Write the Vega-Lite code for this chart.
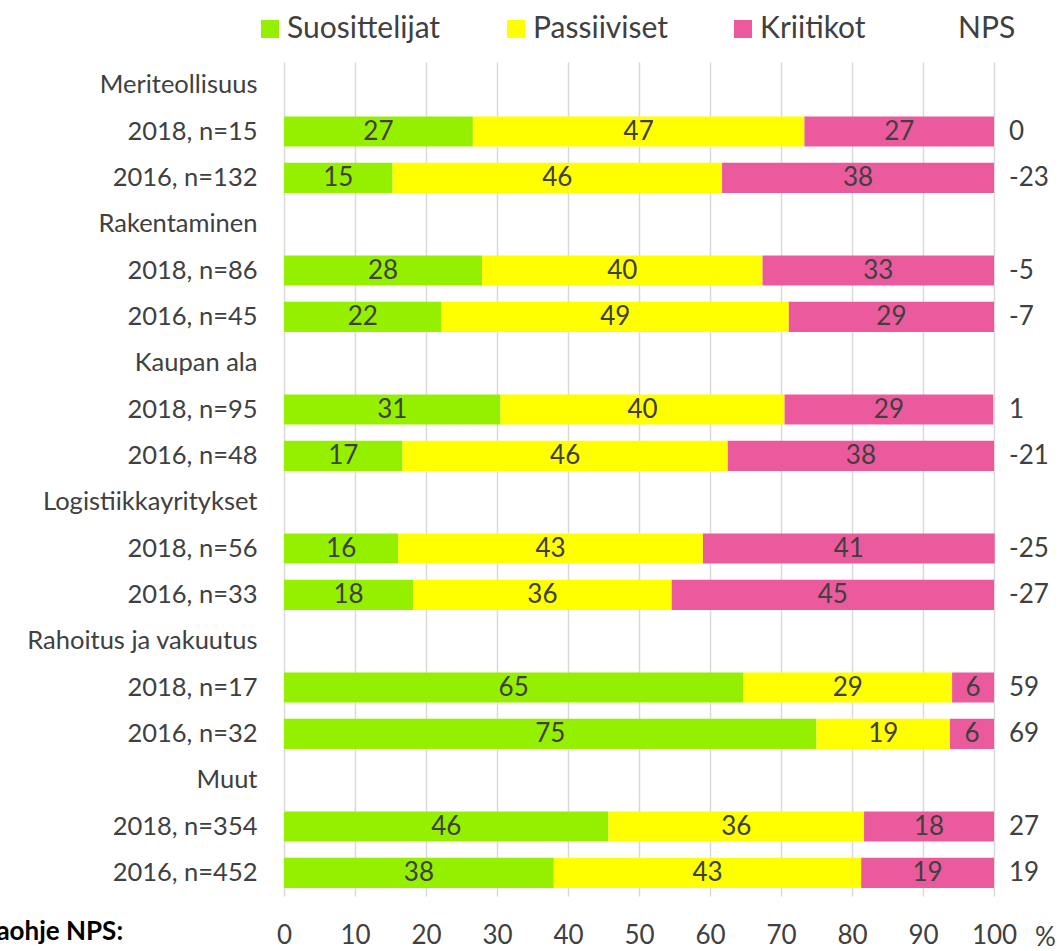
{
  "$schema": "https://vega.github.io/schema/vega-lite/v6.json",
  "autosize": "none",
  "width": 710,
  "height": 834,
  "padding": {"left": 284, "top": 62, "right": 69, "bottom": 55},
  "background": "white",
  "config": {
    "view": {"stroke": null},
    "font": "Lato",
    "text": {"font": "Lato"}
  },
  "title": {
    "text": "Laskentaohje NPS:",
    "orient": "bottom",
    "anchor": "start",
    "frame": "group",
    "font": "Lato",
    "fontWeight": "bold",
    "fontSize": 26,
    "color": "#000000",
    "dx": -377,
    "dy": -35
  },
  "datasets": {
    "bars": [
      {"label": "2018, n=15", "seg": "Suosittelijat", "o": 1, "value": 26.6},
      {"label": "2018, n=15", "seg": "Passiiviset", "o": 2, "value": 46.7},
      {"label": "2018, n=15", "seg": "Kriitikot", "o": 3, "value": 26.7},
      {"label": "2016, n=132", "seg": "Suosittelijat", "o": 1, "value": 15.3},
      {"label": "2016, n=132", "seg": "Passiiviset", "o": 2, "value": 46.4},
      {"label": "2016, n=132", "seg": "Kriitikot", "o": 3, "value": 38.3},
      {"label": "2018, n=86", "seg": "Suosittelijat", "o": 1, "value": 27.9},
      {"label": "2018, n=86", "seg": "Passiiviset", "o": 2, "value": 39.5},
      {"label": "2018, n=86", "seg": "Kriitikot", "o": 3, "value": 32.6},
      {"label": "2016, n=45", "seg": "Suosittelijat", "o": 1, "value": 22.2},
      {"label": "2016, n=45", "seg": "Passiiviset", "o": 2, "value": 48.9},
      {"label": "2016, n=45", "seg": "Kriitikot", "o": 3, "value": 28.9},
      {"label": "2018, n=95", "seg": "Suosittelijat", "o": 1, "value": 30.5},
      {"label": "2018, n=95", "seg": "Passiiviset", "o": 2, "value": 40.0},
      {"label": "2018, n=95", "seg": "Kriitikot", "o": 3, "value": 29.4},
      {"label": "2016, n=48", "seg": "Suosittelijat", "o": 1, "value": 16.7},
      {"label": "2016, n=48", "seg": "Passiiviset", "o": 2, "value": 45.8},
      {"label": "2016, n=48", "seg": "Kriitikot", "o": 3, "value": 37.5},
      {"label": "2018, n=56", "seg": "Suosittelijat", "o": 1, "value": 16.1},
      {"label": "2018, n=56", "seg": "Passiiviset", "o": 2, "value": 42.9},
      {"label": "2018, n=56", "seg": "Kriitikot", "o": 3, "value": 41.1},
      {"label": "2016, n=33", "seg": "Suosittelijat", "o": 1, "value": 18.2},
      {"label": "2016, n=33", "seg": "Passiiviset", "o": 2, "value": 36.4},
      {"label": "2016, n=33", "seg": "Kriitikot", "o": 3, "value": 45.4},
      {"label": "2018, n=17", "seg": "Suosittelijat", "o": 1, "value": 64.7},
      {"label": "2018, n=17", "seg": "Passiiviset", "o": 2, "value": 29.4},
      {"label": "2018, n=17", "seg": "Kriitikot", "o": 3, "value": 5.9},
      {"label": "2016, n=32", "seg": "Suosittelijat", "o": 1, "value": 75.0},
      {"label": "2016, n=32", "seg": "Passiiviset", "o": 2, "value": 18.8},
      {"label": "2016, n=32", "seg": "Kriitikot", "o": 3, "value": 6.2},
      {"label": "2018, n=354", "seg": "Suosittelijat", "o": 1, "value": 45.7},
      {"label": "2018, n=354", "seg": "Passiiviset", "o": 2, "value": 36.0},
      {"label": "2018, n=354", "seg": "Kriitikot", "o": 3, "value": 18.3},
      {"label": "2016, n=452", "seg": "Suosittelijat", "o": 1, "value": 38.0},
      {"label": "2016, n=452", "seg": "Passiiviset", "o": 2, "value": 43.3},
      {"label": "2016, n=452", "seg": "Kriitikot", "o": 3, "value": 18.7}
    ],
    "nps": [
      {"label": "2018, n=15", "nps": "0"},
      {"label": "2016, n=132", "nps": "-23"},
      {"label": "2018, n=86", "nps": "-5"},
      {"label": "2016, n=45", "nps": "-7"},
      {"label": "2018, n=95", "nps": "1"},
      {"label": "2016, n=48", "nps": "-21"},
      {"label": "2018, n=56", "nps": "-25"},
      {"label": "2016, n=33", "nps": "-27"},
      {"label": "2018, n=17", "nps": "59"},
      {"label": "2016, n=32", "nps": "69"},
      {"label": "2018, n=354", "nps": "27"},
      {"label": "2016, n=452", "nps": "19"}
    ]
  },
  "layer": [
    {
      "data": {"name": "bars"},
      "mark": {"type": "bar"},
      "encoding": {
        "y": {
          "field": "label",
          "type": "nominal",
          "scale": {
            "domain": ["Meriteollisuus", "2018, n=15", "2016, n=132", "Rakentaminen", "2018, n=86", "2016, n=45", "Kaupan ala", "2018, n=95", "2016, n=48", "Logistiikkayritykset", "2018, n=56", "2016, n=33", "Rahoitus ja vakuutus", "2018, n=17", "2016, n=32", "Muut", "2018, n=354", "2016, n=452"],
            "paddingInner": 0.35,
            "paddingOuter": 0.175
          },
          "axis": {
            "title": null,
            "domain": false,
            "ticks": false,
            "grid": false,
            "labelPadding": 27,
            "labelLimit": 400,
            "labelFontSize": 25.5,
            "labelFont": "Lato",
            "labelColor": "#404040"
          }
        },
        "x": {
          "field": "value",
          "type": "quantitative",
          "stack": "zero",
          "scale": {"domain": [0, 100], "nice": false},
          "axis": {
            "values": [0, 10, 20, 30, 40, 50, 60, 70, 80, 90, 100],
            "grid": true,
            "gridColor": "#d9d9d9",
            "gridWidth": 1.5,
            "domain": false,
            "ticks": false,
            "labelFlush": false,
            "labelOverlap": false,
            "labelPadding": 26,
            "labelFontSize": 26,
            "labelFont": "Lato",
            "labelColor": "#404040",
            "title": "%",
            "titleFont": "Lato",
            "titleFontSize": 26,
            "titleFontWeight": "normal",
            "titleColor": "#404040",
            "titleAnchor": null,
            "titleX": 761,
            "titleY": 41,
            "titleAlign": "center",
            "titleBaseline": "middle"
          }
        },
        "color": {
          "field": "seg",
          "type": "nominal",
          "scale": {
            "domain": ["Suosittelijat", "Passiiviset", "Kriitikot", "NPS"],
            "range": ["#95f000", "#ffff00", "#ec5a9e", "rgba(0,0,0,0)"]
          },
          "legend": {
            "title": null,
            "orient": "none",
            "direction": "horizontal",
            "legendX": -29,
            "legendY": -48,
            "symbolType": "square",
            "symbolSize": 324,
            "symbolStrokeWidth": 0,
            "labelOffset": 2,
            "labelFont": "Lato",
            "labelFontSize": 30,
            "labelColor": "#404040",
            "labelLimit": 400,
            "columnPadding": 60
          }
        },
        "order": {"field": "o", "type": "quantitative"}
      }
    },
    {
      "data": {"name": "bars"},
      "transform": [
        {"stack": "value", "groupby": ["label"], "sort": [{"field": "o", "order": "ascending"}], "as": ["v0", "v1"]},
        {"fold": ["v0", "v1"], "as": ["edge", "pos"]},
        {"aggregate": [{"op": "mean", "field": "pos", "as": "mid"}], "groupby": ["label", "seg", "value"]}
      ],
      "mark": {"type": "text", "fontSize": 26, "font": "Lato", "color": "#404040", "baseline": "middle", "align": "center"},
      "encoding": {
        "y": {"field": "label", "type": "nominal"},
        "x": {"field": "mid", "type": "quantitative"},
        "text": {"field": "value", "type": "quantitative", "format": ".0f"}
      }
    },
    {
      "data": {"name": "nps"},
      "mark": {"type": "text", "fontSize": 26, "font": "Lato", "color": "#404040", "baseline": "middle", "align": "left", "dx": 15},
      "encoding": {
        "y": {"field": "label", "type": "nominal"},
        "x": {"datum": 100},
        "text": {"field": "nps", "type": "nominal"}
      }
    }
  ]
}
